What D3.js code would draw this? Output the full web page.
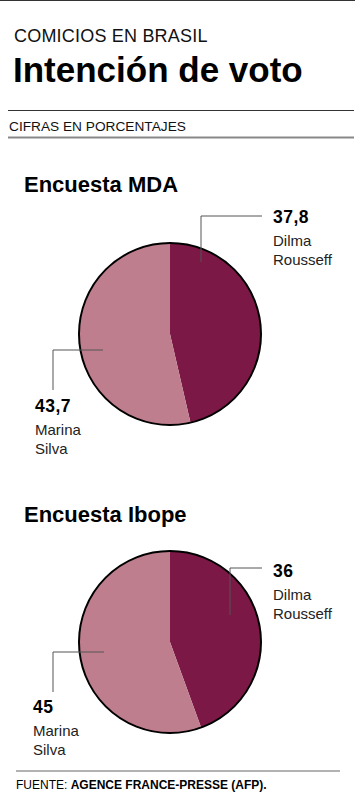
<!DOCTYPE html>
<html>
<head>
<meta charset="utf-8">
<script src="https://cdn.jsdelivr.net/npm/d3@7"></script>
<style>
	html, body { margin: 0; padding: 0; background: #fff; }
	svg { display: block; font-family: "Liberation Sans", Arial, sans-serif; }
</style>
</head>
<body>
<svg id="chart" width="355" height="800"></svg>
<script>
// data
const surveys = ["Encuesta MDA", "Encuesta Ibope"]
const candidates = ["Dilma Rousseff", "Marina Silva"]
const dilmaValues = [37.8, 36]
const marinaValues = [43.7, 45]
const colors = ["#7b1845", "#bf7e8e"]

const fmt = v => String(v).replace(".", ",")

const svg = d3.select("#chart")

// header
svg.append("line").attr("x1", 0).attr("x2", 355).attr("y1", 0.5).attr("y2", 0.5)
	.attr("stroke", "#333").attr("stroke-width", 1)
svg.append("text").attr("x", 14).attr("y", 42)
	.attr("font-size", 18).attr("letter-spacing", 0.2).attr("fill", "#111")
	.text("COMICIOS EN BRASIL")
svg.append("text").attr("x", 13).attr("y", 82)
	.attr("font-size", 35).attr("font-weight", "bold").attr("fill", "#000")
	.text("Intención de voto")
svg.append("line").attr("x1", 8).attr("x2", 354).attr("y1", 110.5).attr("y2", 110.5)
	.attr("stroke", "#333").attr("stroke-width", 1)
svg.append("text").attr("x", 9).attr("y", 131)
	.attr("font-size", 13.7).attr("fill", "#111")
	.text("CIFRAS EN PORCENTAJES")
svg.append("line").attr("x1", 8).attr("x2", 354).attr("y1", 137.5).attr("y2", 137.5)
	.attr("stroke", "#888").attr("stroke-width", 2)

// layout for each pie block (leader line offsets from the pie centre)
const blocks = [
	{ top: 192, cy: 334, labels: [
		{ inner: [31, -72], elbow: [31, -118], outer: [92, -118], text: [103, -111] },
		{ inner: [-67, 16], elbow: [-117, 16], outer: [-117, 56], text: [-135, 78] },
	] },
	{ top: 522, cy: 642, labels: [
		{ inner: [60, -27], elbow: [60, -74], outer: [92, -74], text: [103, -65] },
		{ inner: [-66, 10], elbow: [-117, 10], outer: [-117, 50], text: [-137, 71] },
	] },
]
const cx = 170
const radius = 91

const pie = d3.pie().sort(null).value(d => d)
const arc = d3.arc().innerRadius(0).outerRadius(radius)

surveys.forEach((name, i) => {
	const b = blocks[i]
	const values = [dilmaValues[i], marinaValues[i]]
	svg.append("text").attr("x", 24).attr("y", b.top)
		.attr("font-size", 22).attr("font-weight", "bold").attr("fill", "#000")
		.text(name)

	const g = svg.append("g").attr("transform", "translate(" + cx + "," + b.cy + ")")
	g.selectAll("path.slice")
		.data(pie(values))
		.join("path")
		.attr("class", "slice")
		.attr("d", arc)
		.attr("fill", (d, j) => colors[j])
	g.append("circle").attr("r", radius)
		.attr("fill", "none").attr("stroke", "#000").attr("stroke-width", 2)

	b.labels.forEach((l, j) => {
		g.append("polyline")
			.attr("points", [l.inner, l.elbow, l.outer].map(p => p.join(",")).join(" "))
			.attr("fill", "none").attr("stroke", "#555").attr("stroke-width", 1)
		const names = candidates[j].split(" ")
		const t = g.append("text").attr("x", l.text[0]).attr("y", l.text[1]).attr("fill", "#000")
		t.append("tspan").attr("x", l.text[0]).attr("font-size", 17.5).attr("font-weight", "bold")
			.attr("letter-spacing", 0.5).text(fmt(values[j]))
		names.forEach((n, k) => {
			t.append("tspan").attr("x", l.text[0]).attr("dy", k === 0 ? 23 : 19)
				.attr("font-size", 15).attr("fill", "#222").text(n)
		})
	})
})

// footer
svg.append("line").attr("x1", 16).attr("x2", 340).attr("y1", 771).attr("y2", 771)
	.attr("stroke", "#999").attr("stroke-width", 1.5)
const foot = svg.append("text").attr("x", 16).attr("y", 789).attr("font-size", 12).attr("fill", "#000")
foot.append("tspan").text("FUENTE: ")
foot.append("tspan").attr("font-weight", "bold").text("AGENCE FRANCE-PRESSE (AFP).")
</script>
</body>
</html>
